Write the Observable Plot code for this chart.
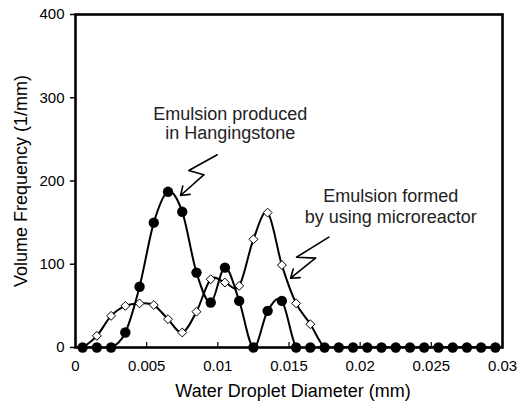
<!DOCTYPE html>
<html>
<head>
<meta charset="utf-8">
<script src="https://cdn.jsdelivr.net/npm/d3@7"></script>
<script src="https://cdn.jsdelivr.net/npm/@observablehq/plot@0.6"></script>
<style>
  body { margin: 0; background: #fff; }
  svg { font-family: "Liberation Sans", Arial, sans-serif; }
</style>
</head>
<body>
<div id="chart"></div>
<script>
// Droplet diameter bin centres (mm)
const diameter = [
  0.0005, 0.0015, 0.0025, 0.0035, 0.0045, 0.0055, 0.0065, 0.0075, 0.0085, 0.0095,
  0.0105, 0.0115, 0.0125, 0.0135, 0.0145, 0.0155, 0.0165, 0.0175, 0.0185, 0.0195,
  0.0205, 0.0215, 0.0225, 0.0235, 0.0245, 0.0255, 0.0265, 0.0275, 0.0285, 0.0295
];
// Volume frequency (1/mm), emulsion produced in Hangingstone
const hangingstone = [
  0, 0, 0, 18, 73, 150, 187, 163, 90, 54,
  96, 56, 0, 44, 56, 0, 0, 0, 0, 0,
  0, 0, 0, 0, 0, 0, 0, 0, 0, 0
];
// Volume frequency (1/mm), emulsion formed by using microreactor
const microreactor = [
  0, 14, 38, 50, 53, 51, 34, 18, 43, 82,
  78, 74, 130, 162, 99, 53, 28, 0, 0, 0,
  0, 0, 0, 0, 0, 0, 0, 0, 0, 0
];

const xTicks = [0, 0.005, 0.01, 0.015, 0.02, 0.025, 0.03];
const xTickLabels = ["0", "0.005", "0.01", "0.015", "0.02", "0.025", "0.03"];
const yTicks = [0, 100, 200, 300, 400];

// Callout labels and their zigzag leader arrows (data coordinates)
const noteLines = ["Emulsion produced", "in Hangingstone", "Emulsion formed", "by using microreactor"];
const noteX = [0.01087, 0.01087, 0.02215, 0.02215];
const noteY = [280.5, 257.7, 181.5, 156.3];
const leader1 = [[0.00996, 231.5], [0.00796, 212.6], [0.00901, 207.4]];
const leader2 = [[0.0178, 132.5], [0.01553, 108.5], [0.01686, 107.3]];
const arrowTips = [
  {x1: 0.00901, y1: 207.4, x2: 0.00738, y2: 182.6},
  {x1: 0.01686, y1: 107.3, x2: 0.01511, y2: 83.2}
];

const hs = diameter.map((d, i) => ({d, v: hangingstone[i]}));
const mr = diameter.map((d, i) => ({d, v: microreactor[i]}));
const notes = noteLines.map((t, i) => ({t, x: noteX[i], y: noteY[i]}));

const chart = Plot.plot({
  width: 518,
  height: 409,
  marginLeft: 75,
  marginRight: 16,
  marginTop: 14,
  marginBottom: 62,
  style: {fontFamily: "'Liberation Sans', Arial, sans-serif", color: "#000", background: "#fff"},
  x: {domain: [0, 0.03]},
  y: {domain: [0, 400]},
  marks: [
    Plot.axisY(yTicks, {tickSize: 5, tickPadding: 6, fontSize: 15, label: null, strokeWidth: 1.5}),
    Plot.axisX(xTicks, {tickSize: 0, tickPadding: 13, fontSize: 15, label: null,
      tickFormat: (d) => xTickLabels[xTicks.indexOf(d)]}),
    Plot.ruleX(xTicks, {y1: 0, y2: 6, stroke: "#000", strokeWidth: 1.2}),
    Plot.text(["Water Droplet Diameter (mm)"], {frameAnchor: "bottom", dy: 49, dx: 4, fontSize: 18, fill: "#000"}),
    Plot.text(["Volume Frequency (1/mm)"], {frameAnchor: "left", textAnchor: "middle", rotate: -90, dx: -54.5, fontSize: 18, fill: "#000"}),

    Plot.line(mr, {x: "d", y: "v", curve: "cardinal", stroke: "#000", strokeWidth: 2, clip: true}),
    Plot.dot(mr, {x: "d", y: "v", symbol: "diamond2", r: 4, fill: "#fff", stroke: "#000", strokeWidth: 1}),
    Plot.line(hs, {x: "d", y: "v", curve: "cardinal", stroke: "#000", strokeWidth: 2, clip: true}),
    Plot.dot(hs, {x: "d", y: "v", r: 5.2, fill: "#000", stroke: "none"}),

    Plot.text(notes, {x: "x", y: "y", text: "t", fontSize: 18, fill: "#222"}),
    Plot.line(leader1, {x: "0", y: "1", stroke: "#000", strokeWidth: 1.6, strokeLinejoin: "round"}),
    Plot.line(leader2, {x: "0", y: "1", stroke: "#000", strokeWidth: 1.6, strokeLinejoin: "round"}),
    Plot.arrow(arrowTips, {x1: "x1", y1: "y1", x2: "x2", y2: "y2", stroke: "#000", strokeWidth: 1.6, headLength: 9, headAngle: 70}),

    Plot.frame({stroke: "#000", strokeWidth: 2.6})
  ]
});
document.getElementById("chart").appendChild(chart);
</script>
</body>
</html>
